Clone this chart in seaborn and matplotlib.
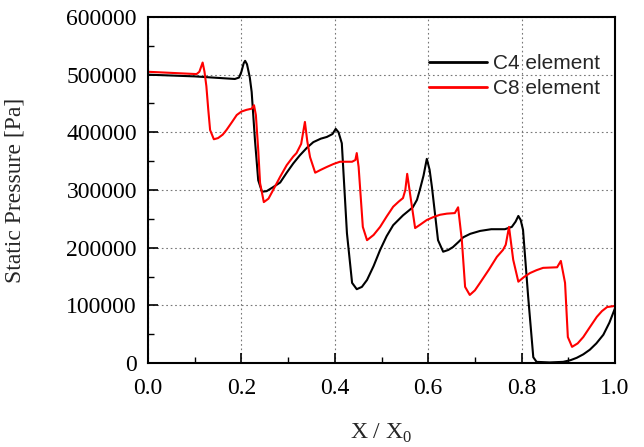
import numpy as np
import pandas as pd
import matplotlib
matplotlib.use("Agg")
import matplotlib.pyplot as plt
from matplotlib.ticker import MultipleLocator
import seaborn as sns

# punkty
c4_x = [0.0, 0.10, 0.186, 0.195, 0.200, 0.205, 0.208, 0.212, 0.218, 0.222, 0.229, 0.236, 0.244,
        0.254, 0.268, 0.283, 0.297, 0.311, 0.325, 0.340, 0.354, 0.370, 0.383, 0.395, 0.402,
        0.408, 0.415, 0.426, 0.437, 0.447, 0.458, 0.469, 0.483, 0.497, 0.511, 0.525, 0.546,
        0.567, 0.576, 0.582, 0.590, 0.597, 0.603, 0.608, 0.621, 0.632, 0.643, 0.653, 0.665,
        0.675, 0.690, 0.711, 0.735, 0.764, 0.779, 0.787, 0.793, 0.798, 0.803, 0.814, 0.825,
        0.832, 0.860, 0.889, 0.905, 0.918, 0.932, 0.946, 0.960, 0.975, 0.988, 1.0]
c4_y = [500000, 497000, 492500, 495000, 505000, 520000, 524000, 518000, 495000, 470000, 387000, 317000, 297000,
        298000, 305000, 313000, 330000, 346000, 360000, 373000, 383000, 389000, 392000, 397000, 406000,
        400000, 381000, 225000, 139000, 128000, 132000, 144000, 168000, 196000, 220000, 239000, 256000,
        270000, 283000, 300000, 325000, 354000, 335000, 305000, 213000, 193000, 196000, 201000, 210000,
        218000, 224000, 229000, 232000, 232000, 236000, 245000, 255000, 248000, 231000, 115000, 10000,
        2000, 1000, 2000, 5000, 9000, 15000, 23000, 34000, 49000, 70000, 95000]

c8_x = [0.0, 0.104, 0.110, 0.117, 0.121, 0.125, 0.129, 0.133, 0.141, 0.150, 0.160, 0.168, 0.180,
        0.190, 0.200, 0.211, 0.222, 0.227, 0.231, 0.236, 0.240, 0.248, 0.258, 0.268, 0.283,
        0.297, 0.311, 0.318, 0.328, 0.336, 0.341, 0.347, 0.358, 0.370, 0.383, 0.397, 0.411,
        0.437, 0.444, 0.447, 0.451, 0.460, 0.469, 0.483, 0.497, 0.511, 0.525, 0.537, 0.546,
        0.551, 0.555, 0.563, 0.572, 0.583, 0.597, 0.611, 0.625, 0.640, 0.657, 0.664, 0.672,
        0.679, 0.689, 0.700, 0.711, 0.730, 0.747, 0.760, 0.766, 0.773, 0.782, 0.793, 0.805,
        0.818, 0.832, 0.846, 0.876, 0.884, 0.893, 0.899, 0.908, 0.920, 0.932, 0.946, 0.961,
        0.972, 0.983, 1.0]
c8_y = [505000, 501000, 505000, 521000, 505000, 480000, 440000, 404000, 388000, 390000, 396000, 404000, 418000,
        430000, 436000, 439000, 441000, 447000, 430000, 370000, 312000, 279000, 285000, 300000, 323000,
        343000, 358000, 364000, 380000, 418000, 385000, 357000, 330000, 335000, 340000, 345000, 349000,
        349000, 352000, 364000, 340000, 236000, 213000, 222000, 236000, 254000, 271000, 280000, 286000,
        300000, 328000, 283000, 234000, 240000, 248000, 253000, 257000, 259000, 260000, 270000, 213000,
        132000, 118000, 126000, 139000, 162000, 184000, 196000, 205000, 236000, 179000, 141000, 149000,
        156000, 161000, 165000, 166000, 177000, 139000, 45000, 28000, 34000, 45000, 62000, 80000,
        90000, 97000, 99000]

df = pd.concat([
    pd.DataFrame({"x": c4_x, "p": c4_y, "seria": "C4 element"}),
    pd.DataFrame({"x": c8_x, "p": c8_y, "seria": "C8 element"}),
])

sns.set_style("ticks")
plt.rcParams["font.family"] = ["Liberation Serif", "DejaVu Serif"]

fig = plt.figure(figsize=(6.44, 4.47), dpi=100)
ax = fig.add_axes([0.2298, 0.1879, 0.7252, 0.7741])

sns.lineplot(data=df, x="x", y="p", hue="seria", estimator=None, sort=False,
             palette={"C4 element": "black", "C8 element": "red"}, linewidth=1.5, ax=ax)

ax.set_xlim(0, 1)
ax.set_ylim(0, 600000)
ax.xaxis.set_major_locator(MultipleLocator(0.2))
ax.xaxis.set_minor_locator(MultipleLocator(0.1))
ax.yaxis.set_major_locator(MultipleLocator(100000))
ax.yaxis.set_minor_locator(MultipleLocator(50000))
ax.xaxis.set_major_formatter(matplotlib.ticker.FormatStrFormatter("%.1f"))
ax.yaxis.set_major_formatter(matplotlib.ticker.FormatStrFormatter("%d"))
ax.tick_params(which="both", direction="in", labelsize=17, colors="black")
ax.tick_params(which="major", length=7, width=1.2)
ax.tick_params(axis="x", which="major", pad=11)
ax.tick_params(axis="y", which="major", pad=8)
ax.tick_params(which="minor", length=4, width=1.0)
ax.grid(True, which="major", linestyle=(0, (1.5, 2.5)), color="#777777", linewidth=0.8)
for s in ax.spines.values():
    s.set_linewidth(1.5)
    s.set_color("black")

ax.set_xlabel("X / X$_\\mathregular{0}$", fontsize=17, labelpad=16)
ax.set_ylabel("Static Pressure [Pa]", fontsize=17)
ax.yaxis.set_label_coords(-0.263, 0.5)

leg = ax.legend(loc="upper right", bbox_to_anchor=(1.0, 0.935), frameon=False,
                handlelength=2.8, handletextpad=0.3, borderaxespad=0.3, labelspacing=0.3,
                prop={"family": "Liberation Sans", "size": 15})
for h in leg.get_lines():
    h.set_linewidth(2)

fig.savefig("out.png", dpi=100)
